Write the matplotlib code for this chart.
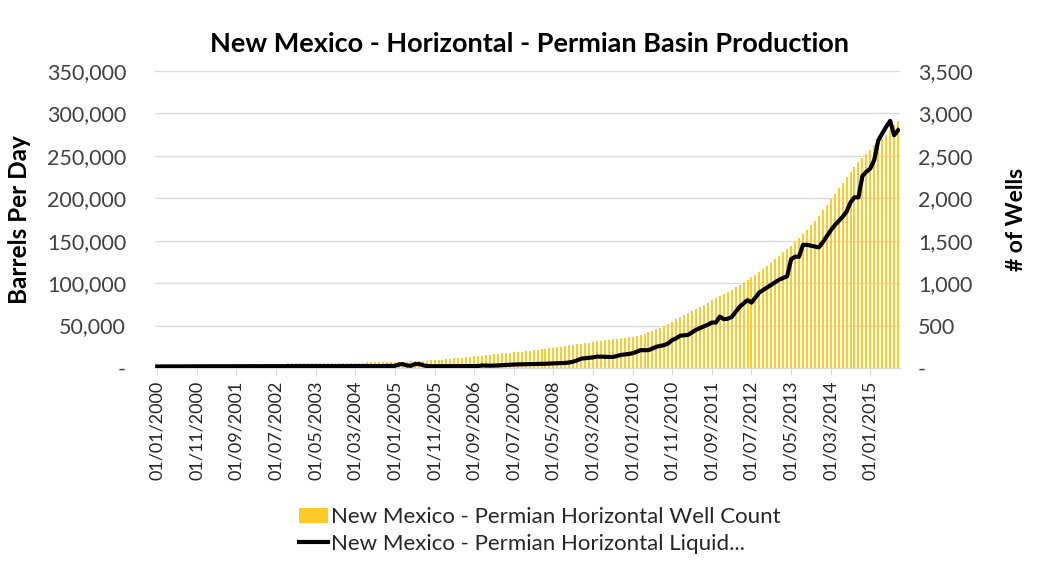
import numpy as np
import pandas as pd
import matplotlib
matplotlib.use("Agg")
import matplotlib.pyplot as plt
from matplotlib.ticker import FuncFormatter

plt.rcParams["font.family"] = ["Lato", "DejaVu Sans"]

# ── data: monthly, Jan 2000 .. Aug 2015 ─────────────────────────────────────
MONTHS = pd.date_range("2000-01-01", "2015-08-01", freq="MS")

WELL_COUNT = [
    20, 21, 22, 23, 24, 25, 26, 27, 28, 29, 30, 31,                 # 2000
    32, 33, 34, 35, 36, 37, 38, 39, 40, 41, 42, 43,                 # 2001
    44, 45, 46, 47, 48, 49, 50, 51, 52, 53, 54, 55,                 # 2002
    56, 57, 57, 58, 58, 59, 59, 60, 60, 61, 61, 62,                 # 2003
    62, 63, 63, 64, 64, 65, 65, 66, 66, 67, 67, 68,                 # 2004
    69, 71, 73, 75, 77, 79, 81, 84, 87, 90, 93, 96,                 # 2005
    100, 104, 108, 112, 117, 122, 127, 132, 137, 142, 147, 152,     # 2006
    157, 162, 167, 172, 177, 182, 186, 190, 194, 198, 202, 207,     # 2007
    212, 218, 224, 230, 237, 244, 251, 258, 265, 272, 279, 286,     # 2008
    293, 300, 307, 313, 319, 325, 331, 337, 343, 349, 355, 362,     # 2009
    370, 380, 392, 405, 420, 437, 455, 475, 497, 520, 545, 572,     # 2010
    600, 620, 645, 670, 695, 720, 745, 770, 795, 820, 845, 870,     # 2011
    895, 920, 950, 980, 1010, 1040, 1070, 1100, 1135, 1170, 1205, 1240,   # 2012
    1280, 1320, 1360, 1400, 1440, 1480, 1530, 1580, 1630, 1680, 1730, 1790,  # 2013
    1860, 1920, 1985, 2050, 2115, 2180, 2245, 2310, 2370, 2420, 2470, 2520,  # 2014
    2570, 2620, 2660, 2700, 2740, 2800, 2860, 2910,                 # 2015
]

LIQUIDS_BPD = [
    1800, 1800, 1850, 1850, 1900, 1900, 1900, 1950, 1950, 1950, 2000, 2000,
    2000, 2000, 2000, 2050, 2050, 2050, 2050, 2100, 2100, 2100, 2100, 2100,
    2100, 2100, 2150, 2150, 2150, 2150, 2100, 2100, 2100, 2150, 2150, 2150,
    2150, 2150, 2100, 2100, 2100, 2150, 2150, 2150, 2100, 2100, 2100, 2100,
    2100, 2100, 2150, 2150, 2150, 2200, 2200, 2200, 2250, 2250, 2300, 2300,
    2500, 4200, 4600, 3000, 2600, 4500, 4800, 3500, 2200, 2100, 2100, 2100,
    2100, 2100, 2150, 2150, 2200, 2200, 2200, 2250, 2250, 2300, 3000, 2800,
    2700, 2800, 3000, 3300, 3600, 3900, 4100, 4200, 4200, 4300, 4400, 4500,
    4600, 4800, 5000, 5200, 5400, 5600, 5800, 6000, 6500, 7500, 9000, 11000,
    11500, 12000, 12500, 13400, 13400, 13200, 13000, 13000, 14000, 15400, 16000, 16500,
    17400, 19000, 21000, 21000, 21000, 23000, 25000, 26000, 27000, 29000, 33000, 35000,
    38000, 38500, 39000, 42000, 45000, 47000, 49000, 51000, 53500, 53500, 60500, 57500,
    58000, 60000, 66000, 72000, 76000, 80000, 77000, 83000, 89000, 92000, 95000, 98000,
    101000, 104000, 106000, 108000, 128000, 131000, 131000, 145000, 145000, 144000, 143000, 142000,
    148000, 155000, 162000, 168000, 173000, 178000, 184000, 195000, 201000, 201000, 226000, 231000,
    235000, 245000, 268000, 276000, 284000, 291000, 274000, 280000,
]

TICK_LABELS = [
    "01/01/2000", "01/11/2000", "01/09/2001", "01/07/2002", "01/05/2003",
    "01/03/2004", "01/01/2005", "01/11/2005", "01/09/2006", "01/07/2007",
    "01/05/2008", "01/03/2009", "01/01/2010", "01/11/2010", "01/09/2011",
    "01/07/2012", "01/05/2013", "01/03/2014", "01/01/2015",
]

TITLE = "New Mexico - Horizontal - Permian Basin Production"
BAR_LABEL = "New Mexico - Permian Horizontal Well Count"
LINE_LABEL = "New Mexico - Permian Horizontal Liquid..."

# ── figure ──────────────────────────────────────────────────────────────────
fig = plt.figure(figsize=(10.49, 5.75), dpi=100)
ax = fig.add_axes([0.148, 0.36, 0.71, 0.517])
ax2 = ax.twinx()

x = np.arange(len(MONTHS))
month_str = [d.strftime("%d/%m/%Y") for d in MONTHS]
tick_pos = [month_str.index(t) for t in TICK_LABELS]

fmt = FuncFormatter(lambda v, p: "-" if v == 0 else f"{v:,.0f}")

# bars on the secondary (right) axis, behind
bars = ax2.bar(x, WELL_COUNT, width=0.5, color="#FFCA28",
               linewidth=0, zorder=2, label=BAR_LABEL)
ax2.set_ylim(0, 3500)
ax2.set_yticks(np.arange(0, 3501, 500))
ax2.yaxis.set_major_formatter(fmt)
ax2.grid(axis="y", color="#D9D9D9", linewidth=1.0, zorder=0)
ax2.set_axisbelow(True)
ax2.set_ylabel("# of Wells", fontsize=16.5, fontweight="bold", labelpad=24)

# line on the primary (left) axis, drawn on top
line, = ax.plot(x, LIQUIDS_BPD, color="black", linewidth=3.0, zorder=5,
                label=LINE_LABEL)
ax.set_zorder(ax2.get_zorder() + 1)
ax.patch.set_visible(False)
ax.set_ylim(0, 350000)
ax.set_yticks(np.arange(0, 350001, 50000))
ax.yaxis.set_major_formatter(fmt)
ax.set_ylabel("Barrels Per Day", fontsize=17.5, fontweight="bold")
ax.yaxis.set_label_coords(-0.167, 0.5)

ax.set_xlim(-0.5, len(MONTHS) - 0.5)
ax.set_xticks(tick_pos)
ax.set_xticklabels(TICK_LABELS, rotation=90, fontsize=13, color="#262626")

for a in (ax, ax2):
    for s in ("top", "left", "right"):
        a.spines[s].set_visible(False)
    a.spines["bottom"].set_color("#D9D9D9")
    a.tick_params(axis="y", length=0, labelsize=15.5, labelcolor="#404040")
ax.tick_params(axis="y", pad=21)
ax.tick_params(axis="x", length=5, color="#D9D9D9", pad=4)
ax2.tick_params(axis="y", pad=13)

fig.suptitle(TITLE, x=0.505, y=0.945, fontsize=19.5, fontweight="bold")

fig.legend(handles=[bars, line], labels=[BAR_LABEL, LINE_LABEL],
           loc="upper left", bbox_to_anchor=(0.277, 0.133), frameon=False,
           fontsize=16, handlelength=1.3, handletextpad=0.1,
           labelspacing=0.3, borderaxespad=0, labelcolor="#262626")

fig.savefig("out.png", dpi=100)
